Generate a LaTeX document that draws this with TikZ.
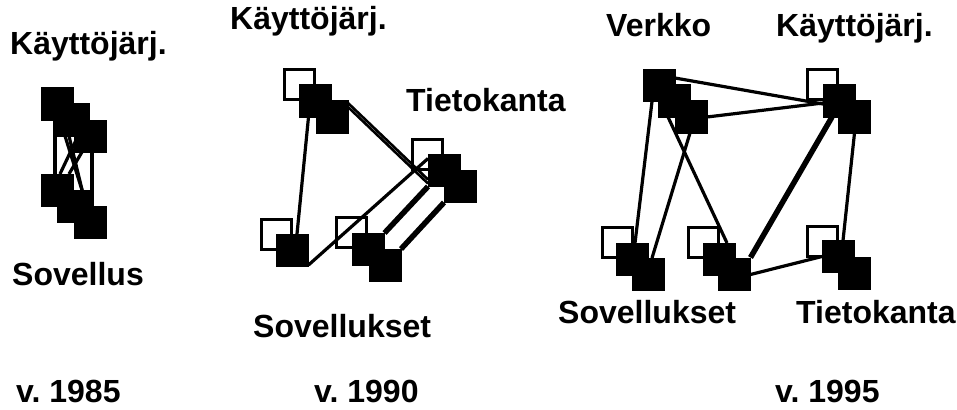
\documentclass[tikz,border=0pt]{standalone}
\usepackage{fontspec}
\setmainfont{Liberation Sans}
\frenchspacing
\pgfdeclarelayer{whitesq}
\pgfdeclarelayer{links}
\pgfsetlayers{whitesq,links,main}
\begin{document}
\begin{tikzpicture}[x=1pt,y=-1pt,
  bsq/.style={draw=black,fill=black,line width=1pt,minimum size=32pt,inner sep=0pt,outer sep=0pt},
  wsq/.style={draw=black,fill=white,line width=3pt,minimum size=30pt,inner sep=0pt,outer sep=0pt},
  link/.style={line width=3.2pt},
  heavylink/.style={line width=5.5pt},
  lbl/.style={anchor=base west,inner sep=0pt,font=\bfseries\fontsize{32}{38}\selectfont}]
\useasboundingbox (0,0) rectangle (957,409);

% ---------- v. 1985 ----------
\node[bsq] (t1) at (57,104) {};
\node[bsq] (t2) at (73,120) {};
\node[bsq] (t3) at (90,136) {};
\node[bsq] (b1) at (57,190) {};
\node[bsq] (b2) at (73,206) {};
\node[bsq] (b3) at (90,222) {};
\begin{pgfonlayer}{links}
\draw[link] ([xshift=-2pt]t1.south) -- ([xshift=-2pt]b1.north);
\draw[link] ([xshift=2pt]t3.south) -- ([xshift=2pt]b3.north);
\draw[link] ([xshift=-8pt]t2.south) -- ([xshift=9pt]b2.north);
\draw[link] ([xshift=5pt]t2.south) -- ([xshift=3pt]b1.north);
\draw[link] ([xshift=-8pt]t3.south) -- ([xshift=12pt]b1.north);
\draw[link] ([xshift=-4pt]t2.south) -- ([xshift=-4pt]b3.north);
\end{pgfonlayer}

% ---------- v. 1990 ----------
\begin{pgfonlayer}{whitesq}
\node[wsq] (wA) at (299,85) {};
\node[wsq] (wB) at (427.5,154) {};
\node[wsq] (wC) at (276,234) {};
\node[wsq] (wD) at (351.5,232.5) {};
\end{pgfonlayer}
\node[bsq] (A2) at (315.5,101) {};
\node[bsq] (A3) at (332,117) {};
\node[bsq] (B2) at (444,170.5) {};
\node[bsq] (B3) at (460,186.5) {};
\node[bsq] (C2) at (292.5,250) {};
\node[bsq] (D2) at (368.5,249) {};
\node[bsq] (D3) at (385,265) {};
\begin{pgfonlayer}{links}
\draw[link] ([xshift=-7pt]A2.south) -- ([xshift=4.5pt]C2.north);
\draw[line width=2.6pt] ([yshift=10pt]A3.east) -- ([yshift=-13pt]B2.west);
\draw[line width=2.6pt] ([yshift=14pt]A3.east) -- ([yshift=-9pt]B2.west);
\draw[link] ([yshift=-15pt]C2.east) -- ([yshift=12pt]B2.west);
\draw[heavylink] (D2.north east) -- (B2.south west);
\draw[heavylink] (D3.north east) -- (B3.south west);
\end{pgfonlayer}

% ---------- v. 1995 ----------
\begin{pgfonlayer}{whitesq}
\node[wsq] (wK) at (822.5,85) {};
\node[wsq] (wS) at (617.5,242.5) {};
\node[wsq] (wM) at (703,242.5) {};
\node[wsq] (wT) at (822.5,241) {};
\end{pgfonlayer}
\node[bsq] (V1) at (659,85.5) {};
\node[bsq] (V2) at (674.5,101) {};
\node[bsq] (V3) at (691,117) {};
\node[bsq] (K2) at (839,101) {};
\node[bsq] (K3) at (854.5,117) {};
\node[bsq] (S2) at (632,259) {};
\node[bsq] (S3) at (648,274) {};
\node[bsq] (M2) at (719,259) {};
\node[bsq] (M3) at (734.5,274.5) {};
\node[bsq] (T2) at (838,256.5) {};
\node[bsq] (T3) at (854.5,273.5) {};
\begin{pgfonlayer}{links}
\draw[link] ([xshift=-7pt]V1.south) -- ([xshift=3pt]S2.north);
\draw[link] ([xshift=-1pt]V3.south) -- ([xshift=4pt]S3.north);
\draw[link] ([xshift=-6.5pt]V2.south) -- ([xshift=8pt]M2.north);
\draw[link] ([yshift=7.5pt]V1.east) -- ([yshift=-3pt]K2.west);
\draw[link] (V3.east) -- ([yshift=-2pt]K2.west);
\draw[heavylink] ([xshift=-7pt]K2.south) -- ([yshift=1pt]M3.north east);
\draw[link] (K3.south) -- ([xshift=5pt]T2.north);
\draw[link] (M3.east) -- (T2.west);
\end{pgfonlayer}

% ---------- labels ----------
\node[lbl] (l1) at (10,55) {Käyttöjärj.};
\node[lbl] (l2) at (12,285) {Sovellus};
\node[lbl] (l3) at (230,30) {Käyttöjärj.};
\node[lbl] (l4) at (406,111) {Tietokanta};
\node[lbl] (l5) at (253,337) {Sovellukset};
\node[lbl] (l6) at (606,37) {Verkko};
\node[lbl] (l7) at (776,37) {Käyttöjärj.};
\node[lbl] (l8) at (558,323) {Sovellukset};
\node[lbl] (l9) at (796,323) {Tietokanta};
\node[lbl] (y1) at (16,402) {v. 1985};
\node[lbl] (y2) at (314,402) {v. 1990};
\node[lbl] (y3) at (775,402) {v. 1995};
\end{tikzpicture}
\end{document}
